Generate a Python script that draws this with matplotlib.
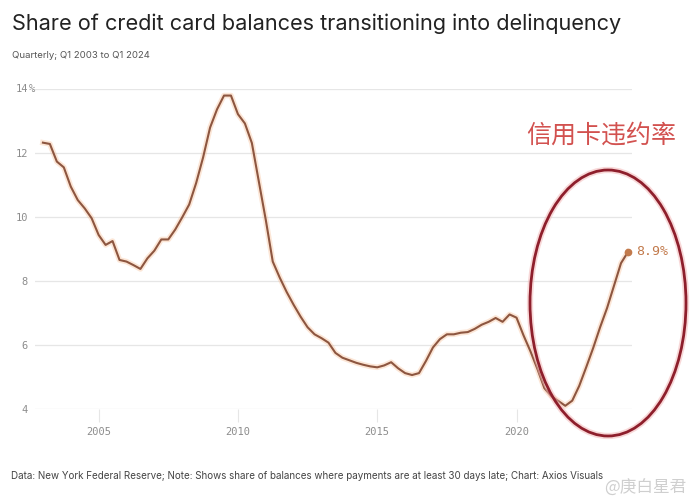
import matplotlib
matplotlib.use('Agg')
import matplotlib.pyplot as plt
from matplotlib.patches import Ellipse
from matplotlib.transforms import blended_transform_factory
import numpy as np

# quarterly share of balances moving into 30+ day delinquency, Q1 2003 .. Q1 2024
rates = [
    12.31, 12.27, 11.72, 11.54,   # 2003
    10.94, 10.52, 10.26, 9.95,    # 2004
    9.43, 9.12, 9.24, 8.65,       # 2005
    8.60, 8.49, 8.37, 8.70,       # 2006
    8.94, 9.29, 9.29, 9.60,       # 2007
    9.98, 10.38, 11.05, 11.85,    # 2008
    12.78, 13.35, 13.78, 13.78,   # 2009
    13.20, 12.91, 12.30, 11.10,   # 2010
    9.90, 8.60, 8.10, 7.65,       # 2011
    7.25, 6.88, 6.55, 6.33,       # 2012
    6.21, 6.07, 5.75, 5.60,       # 2013
    5.52, 5.44, 5.38, 5.33,       # 2014
    5.30, 5.36, 5.46, 5.27,       # 2015
    5.12, 5.06, 5.12, 5.50,       # 2016
    5.92, 6.18, 6.33, 6.33,       # 2017
    6.38, 6.40, 6.50, 6.63,       # 2018
    6.72, 6.84, 6.72, 6.95,       # 2019
    6.85, 6.30, 5.80, 5.25,       # 2020
    4.65, 4.40, 4.25, 4.10,       # 2021
    4.26, 4.72, 5.30, 5.90,       # 2022
    6.55, 7.15, 7.85, 8.55,       # 2023
    8.90,                         # 2024 Q1
]
start_year = 2003
years = start_year + np.arange(len(rates)) / 4

x_ticks = [2005, 2010, 2015, 2020]
y_ticks = [4, 6, 8, 10, 12, 14]

line_col = '#8d5640'
glow_col = '#f7b88c'
tick_col = '#8c8c8c'
grid_col = '#e6e6e6'

W, H = 690, 504
fig = plt.figure(figsize=(W / 100, H / 100), dpi=100)
fig.patch.set_facecolor('white')

# axes placed in pixels: left 35, right 632, bottom at y=409, top at y=88.5
ax = fig.add_axes([35 / W, (H - 409) / H, (632 - 35) / W, (409 - 88.5) / H])
ax.set_xlim(2002.716, 2024.145)
ax.set_ylim(4, 14)
for s in ax.spines.values():
    s.set_visible(False)

ax.set_yticks(y_ticks)
ax.set_yticklabels([str(v) for v in y_ticks], family='DejaVu Sans Mono',
                   fontsize=7.5, color=tick_col)
ax.tick_params(axis='y', length=0, pad=5)
ax.yaxis.grid(True, color=grid_col, lw=0.9)
ax.set_axisbelow(True)
# the "%" hangs to the right of the top label
trans = blended_transform_factory(fig.transFigure, ax.transData)
ax.text(28.5 / W, 14, '%', transform=trans, ha='left', va='center',
        family='DejaVu Sans Mono', fontsize=7.5, color=tick_col)

ax.set_xticks(x_ticks)
ax.set_xticklabels([str(v) for v in x_ticks], family='DejaVu Sans Mono',
                   fontsize=7.5, color=tick_col)
ax.tick_params(axis='x', length=9, width=0.8, color=grid_col, pad=4)

# glow + line
ax.plot(years, rates, color=glow_col, lw=4.0, alpha=0.35,
        solid_joinstyle='round', clip_on=False)
ax.plot(years, rates, color=line_col, lw=1.5, solid_joinstyle='round',
        clip_on=False)
ax.plot(years[-1], rates[-1], 'o', ms=4.5, color='#c27a4c', clip_on=False)
ax.annotate(f'{rates[-1]:.1f}%', (years[-1], rates[-1]), xytext=(6, 0),
            textcoords='offset points', va='center', ha='left',
            family='DejaVu Sans Mono', fontsize=9.5, color='#c27a4c',
            annotation_clip=False)

# headline texts
fig.text(12 / W, 1 - 24 / H, 'Share of credit card balances transitioning into delinquency',
         family='Inter', fontsize=15.6, color='#222222', va='center', ha='left')
fig.text(12 / W, 1 - 56 / H, 'Quarterly; Q1 2003 to Q1 2024',
         family='Inter', fontsize=6.9, color='#555555', va='center', ha='left')
fig.text(11 / W, 1 - 476 / H,
         'Data: New York Federal Reserve; Note: Shows share of balances where payments '
         'are at least 30 days late; Chart: Axios Visuals',
         family='Inter', fontsize=7.1, color='#444444', va='center', ha='left')

# red hand-drawn highlight
fig.text(601 / W, 1 - 136 / H, '信用卡违约率', family=['Noto Sans CJK SC', 'DejaVu Sans'],
         fontsize=18, color='#d2514f', ha='center', va='center')
fig.patches.append(Ellipse((608 / W, 1 - 303 / H), 156 / W, 266 / H,
                           transform=fig.transFigure, fill=False,
                           edgecolor='#f2b3b3', lw=4.5, alpha=0.5))
fig.patches.append(Ellipse((608 / W, 1 - 303 / H), 156 / W, 266 / H,
                           transform=fig.transFigure, fill=False,
                           edgecolor='#8e1f2c', lw=2.0))

# watermark
fig.text(686 / W, 1 - 488 / H, '@庚白星君', family=['Noto Sans CJK SC', 'DejaVu Sans'],
         fontsize=12, color='#cfcfcf', ha='right', va='center')

fig.savefig('out.png', dpi=100, facecolor='white')
